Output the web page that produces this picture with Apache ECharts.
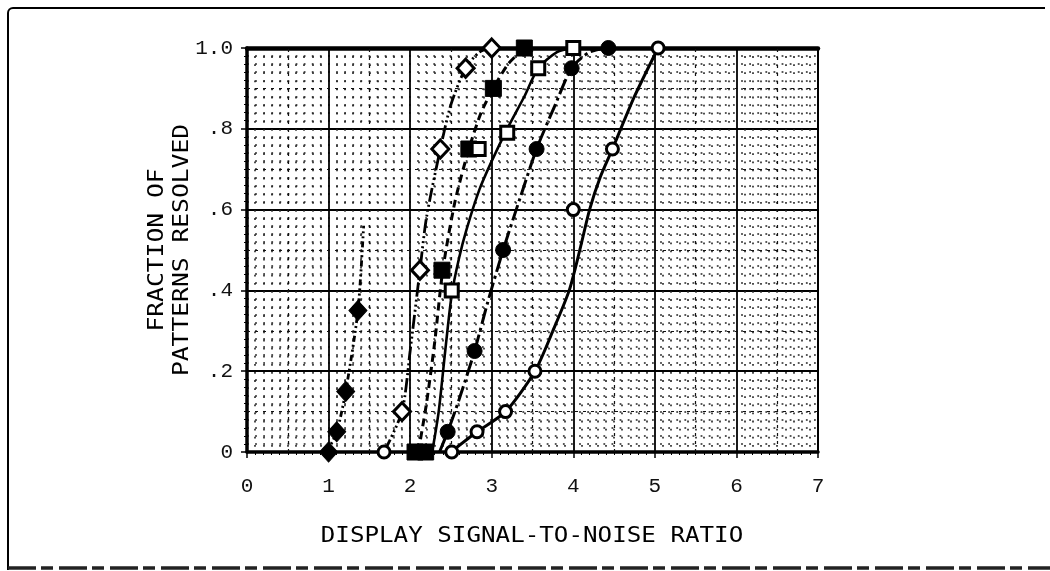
<!DOCTYPE html>
<html><head><meta charset="utf-8">
<script src="https://cdn.jsdelivr.net/npm/echarts@6/dist/echarts.min.js"></script>
<style>html,body{margin:0;padding:0;background:#fff}#c{width:1050px;height:571px}</style>
</head><body><div id="c"></div>
<script>
// ---- tick labels ----
const xTickLabels = ['0','1','2','3','4','5','6','7'];
const yTickLabels = ['0','.2','.4','.6','.8','1.0'];
const xTitle = 'DISPLAY SIGNAL-TO-NOISE RATIO';
const yTitle = ['FRACTION OF', 'PATTERNS RESOLVED'];

// ---- series 1: filled diamonds ----
const s1Points = [[1.0,0],[1.1,0.05],[1.21,0.15],[1.36,0.35]];
const s1Curve  = [[0.98,0],[1.1,0.05],[1.21,0.15],[1.36,0.35],[1.43,0.56]];
// ---- series 2: open diamonds ----
const s2Points = [[1.9,0.1],[2.12,0.45],[2.37,0.75],[2.68,0.95],[3.0,1.0]];
const s2Curve  = [[1.68,0],[1.9,0.1],[2.0,0.25],[2.12,0.45],[2.2,0.58],[2.37,0.75],[2.5,0.86],[2.68,0.95],[2.85,0.99],[3.0,1.0]];
// ---- series 3: filled squares ----
const s3Points = [[2.06,0],[2.19,0],[2.39,0.45],[2.72,0.75],[3.02,0.9],[3.4,1.0]];
const s3Curve  = [[2.1,0],[2.2,0.12],[2.3,0.27],[2.4,0.45],[2.55,0.62],[2.72,0.75],[2.87,0.84],[3.02,0.9],[3.2,0.96],[3.4,1.0]];
// ---- series 4: open squares ----
const s4Points = [[2.51,0.4],[2.84,0.75],[3.19,0.79],[3.57,0.95],[4.0,1.0]];
const s4Curve  = [[2.27,0],[2.35,0.1],[2.43,0.25],[2.51,0.39],[2.6,0.48],[2.69,0.55],[2.85,0.65],[3.0,0.72],[3.19,0.8],[3.4,0.88],[3.57,0.95],[3.8,0.99],[4.0,1.0]];
// ---- series 5: filled circles ----
const s5Points = [[2.46,0.05],[2.79,0.25],[3.14,0.5],[3.55,0.75],[3.98,0.95],[4.43,1.0]];
const s5Curve  = [[2.36,0],[2.46,0.05],[2.6,0.13],[2.79,0.25],[2.95,0.37],[3.14,0.5],[3.35,0.63],[3.55,0.75],[3.78,0.86],[3.98,0.95],[4.2,0.99],[4.43,1.0]];
// ---- series 6: open circles ----
const s6Points = [[1.68,0],[2.51,0],[2.82,0.05],[3.17,0.1],[3.53,0.2],[4.0,0.6],[4.48,0.75],[5.04,1.0]];
const s6Curve  = [[2.5,0],[2.82,0.05],[3.17,0.1],[3.53,0.2],[3.75,0.3],[3.95,0.4],[4.08,0.5],[4.2,0.6],[4.33,0.68],[4.48,0.75],[4.75,0.88],[5.04,1.0]];

// ---- mid grid lines (half divisions) ----
const xHalfLines = [0.5,1.5,2.5,3.5,4.5,5.5,6.5];
const yHalfLines = [0.1,0.3,0.5,0.7,0.9];

const chart = echarts.init(document.getElementById('c'), null, {renderer:'canvas'});

const INK = '#000';
const tickFont = {fontFamily:'Liberation Mono', fontSize:21, color:'#111'};

function curve(data, dash, width, extra) {
  return Object.assign({
    type:'line', data:data, smooth:0.25, symbol:'none', showSymbol:false, silent:true,
    lineStyle:{color:INK, width:width||3, type:dash, opacity:1}, z:3
  }, extra||{});
}
function marks(data, symbol, size, filled) {
  return {
    type:'scatter', data:data, symbol:symbol, symbolSize:size, silent:true, z:5,
    itemStyle: filled ? {color:INK, borderColor:INK, borderWidth:1, opacity:1}
                      : {color:'#fff', borderColor:INK, borderWidth:3, opacity:1}
  };
}

const option = {
  animation:false,
  backgroundColor:'#fff',
  grid:{left:247, right:232, top:48, bottom:119, show:false},
  xAxis:[{
    type:'value', min:0, max:7, interval:1,
    axisLine:{show:true, onZero:false, lineStyle:{color:INK, width:3.5}},
    axisTick:{show:true, length:6, lineStyle:{color:INK, width:1.5}},
    minorTick:{show:true, splitNumber:10, length:3, lineStyle:{color:INK, width:1}},
    axisLabel:Object.assign({margin:24, formatter:v=>xTickLabels[Math.round(v)]}, tickFont),
    splitLine:{show:true, lineStyle:{color:INK, width:1.8}},
    minorSplitLine:{show:true, lineStyle:{color:'#222', width:1.6, type:[1.8,6.3]}}
  },{
    type:'value', min:0, max:7, interval:1, position:'top',
    axisLine:{show:true, onZero:false, lineStyle:{color:INK, width:4.5}},
    axisTick:{show:false}, axisLabel:{show:false}, splitLine:{show:false}
  }],
  yAxis:[{
    type:'value', min:0, max:1, interval:0.2,
    axisLine:{show:true, onZero:false, lineStyle:{color:INK, width:3.5}},
    axisTick:{show:true, length:6, lineStyle:{color:INK, width:1.5}},
    minorTick:{show:true, splitNumber:10, length:3, lineStyle:{color:INK, width:1}},
    axisLabel:Object.assign({margin:14, formatter:v=>yTickLabels[Math.round(v/0.2)]}, tickFont),
    splitLine:{show:true, lineStyle:{color:INK, width:1.8}},
    minorSplitLine:{show:true, lineStyle:{color:'#222', width:1.6, type:[1.8,6.3]}}
  },{
    type:'value', min:0, max:1, interval:0.2, position:'right',
    axisLine:{show:true, onZero:false, lineStyle:{color:INK, width:2}},
    axisTick:{show:false}, axisLabel:{show:false}, splitLine:{show:false}
  }],
  graphic:[
    {type:'line', shape:{x1:8, y1:13, x2:8, y2:570}, style:{stroke:INK, lineWidth:2}},
    {type:'line', shape:{x1:13, y1:8, x2:1045, y2:8}, style:{stroke:INK, lineWidth:2}},
    {type:'arc', shape:{cx:13, cy:13, r:5, startAngle:Math.PI, endAngle:Math.PI*1.5}, style:{stroke:INK, lineWidth:2, fill:null}},
    {type:'line', shape:{x1:8, y1:568, x2:1050, y2:568}, style:{stroke:'#222', lineWidth:3.5, lineDash:[28,5,12,6]}},
    {type:'text', x:532, y:536, scaleX:1.1,
      style:{text:xTitle, fontFamily:'DejaVu Sans Mono', fontSize:22, fill:'#000', align:'center', verticalAlign:'middle'}},
    {type:'text', x:170, y:250, rotation:Math.PI/2, scaleX:1.12,
      style:{text:yTitle.join('\n'), fontFamily:'DejaVu Sans Mono', fontSize:22, lineHeight:25, fill:'#000', align:'center', verticalAlign:'middle'}}
  ],
  series:[
    curve(s1Curve, [6,3,2,3,2,3], 2.8, {
      markLine:{silent:true, symbol:'none', label:{show:false}, animation:false,
        lineStyle:{color:'#111', width:1.2, type:[3,5]},
        data: xHalfLines.map(v=>({xAxis:v})).concat(yHalfLines.map(v=>({yAxis:v})))}
    }),
    curve(s2Curve, [14,3,2,3,2,3,2,3], 2.8),
    curve(s3Curve, [8,5], 3),
    curve(s4Curve, 'solid', 2.6),
    curve(s5Curve, [16,4,3,4], 3),
    curve(s6Curve, 'solid', 3),
    marks(s1Points, 'diamond', [18,20], true),
    marks(s2Points, 'diamond', [17,18], false),
    marks(s3Points, 'rect', [16,16], true),
    marks(s4Points, 'rect', [13,13], false),
    marks(s5Points, 'circle', 15, true),
    marks(s6Points, 'circle', 12, false)
  ]
};
chart.setOption(option);
</script></body></html>
